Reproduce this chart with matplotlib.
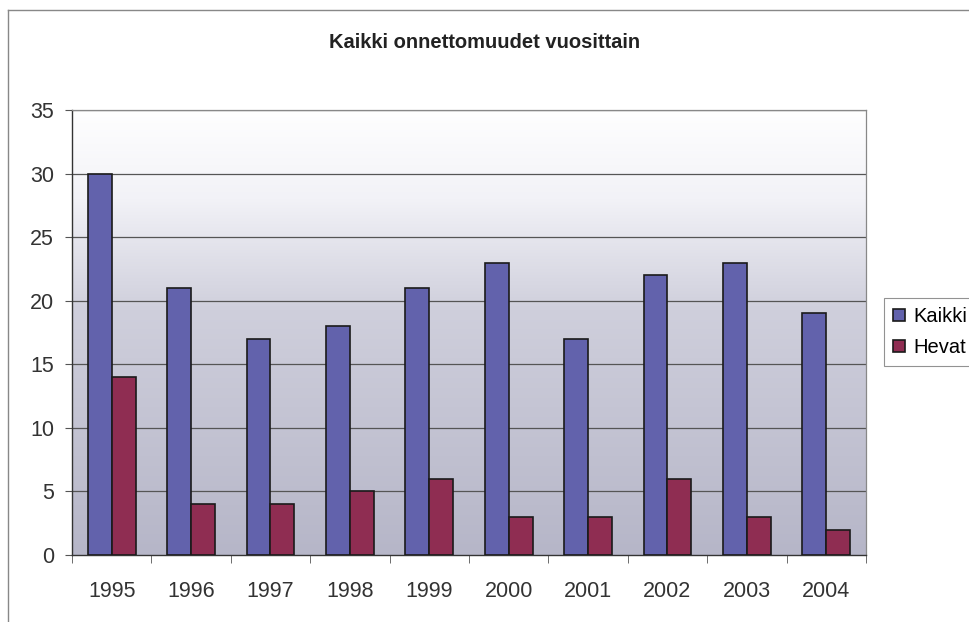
import numpy as np
import matplotlib
matplotlib.use("Agg")
import matplotlib.pyplot as plt
from matplotlib.colors import LinearSegmentedColormap
from matplotlib.lines import Line2D

plt.rcParams['font.family'] = ['Liberation Sans', 'DejaVu Sans']

years = ['1995', '1996', '1997', '1998', '1999', '2000', '2001', '2002', '2003', '2004']
kaikki = [30, 21, 17, 18, 21, 23, 17, 22, 23, 19]
hevat = [14, 4, 4, 5, 6, 3, 3, 6, 3, 2]

fig = plt.figure(figsize=(9.69, 6.22), dpi=100)
ax = fig.add_axes([0.0743, 0.1077, 0.8194, 0.7155])

# gradient background (white at top -> grey-lavender at bottom)
cmap = LinearSegmentedColormap.from_list('bg', [(0, '#b6b6c8'), (0.55, '#cfcfdc'), (0.8, '#f2f2f7'), (1, '#ffffff')])
grad = np.linspace(0, 1, 256).reshape(-1, 1)
ax.imshow(grad, cmap=cmap, aspect='auto', origin='lower',
          extent=(-0.5, len(years) - 0.5, 0, 35), zorder=0)

x = np.arange(len(years))
w = 0.3
ax.bar(x - w / 2, kaikki, w, color='#6262ac', edgecolor='#1a1a1a', linewidth=1.2, label='Kaikki', zorder=3)
ax.bar(x + w / 2, hevat, w, color='#8f2d52', edgecolor='#1a1a1a', linewidth=1.2, label='Hevat', zorder=3)

ax.set_xlim(-0.5, len(years) - 0.5)
ax.set_ylim(0, 35)
ax.set_yticks(range(0, 36, 5))
for v in range(5, 36, 5):
    ax.axhline(v, color='#555555', linewidth=0.9, zorder=1)

ax.set_xticks(x)
ax.set_xticklabels(years, fontsize=15.5, color='#333333')
ax.set_xticks(np.arange(-0.5, len(years)), minor=True)
ax.tick_params(axis='x', which='major', length=0, pad=19)
ax.tick_params(axis='x', which='minor', length=6, color='#555555', direction='out')
ax.tick_params(axis='y', labelsize=15.5, labelcolor='#333333', length=5, color='#555555', pad=8)

for s in ['top', 'right']:
    ax.spines[s].set_color('#888888')
    ax.spines[s].set_linewidth(0.9)
for s in ['left', 'bottom']:
    ax.spines[s].set_color('#333333')
    ax.spines[s].set_linewidth(1.0)

fig.text(0.5, 0.932, 'Kaikki onnettomuudet vuosittain', ha='center', va='center',
         fontsize=14.5, fontweight='bold', color='#222222')

leg = fig.legend(loc='center left', bbox_to_anchor=(0.912, 0.466), fontsize=14.5,
                 frameon=True, fancybox=False, edgecolor='#777777', handlelength=0.6,
                 handleheight=0.6, handletextpad=0.4, borderpad=0.45, labelspacing=0.6,
                 borderaxespad=0)
leg.get_frame().set_linewidth(0.8)

# outer chart border (top and left visible)
fig.add_artist(Line2D([0.008, 1.0], [0.984, 0.984], transform=fig.transFigure, color='#888888', linewidth=1.0))
fig.add_artist(Line2D([0.008, 0.008], [0.0, 0.984], transform=fig.transFigure, color='#888888', linewidth=1.0))

fig.savefig('out.png', dpi=100)
